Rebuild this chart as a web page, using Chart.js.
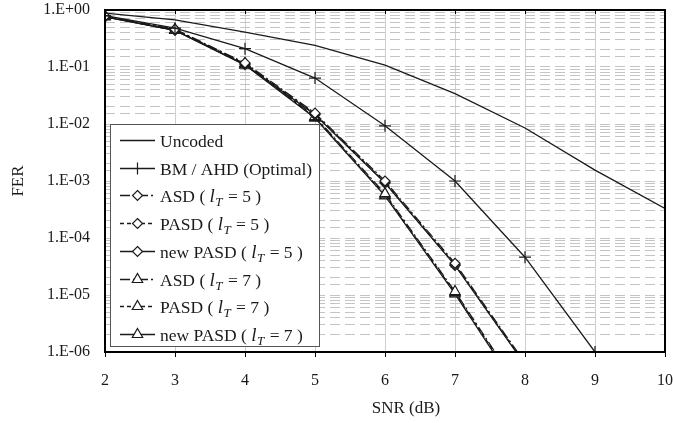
<!DOCTYPE html>
<html>
<head>
<meta charset="utf-8">
<script src="https://cdn.jsdelivr.net/npm/chart.js@4.4.1/dist/chart.umd.min.js"></script>
<style>
  html, body { margin: 0; padding: 0; background: #fff; }
  canvas { display: block; }
</style>
</head>
<body>
<canvas id="c" width="673" height="423"></canvas>
<script>
// ---- data ----
const snrUncoded = [2, 3, 4, 5, 6, 7, 8, 9, 10];
const ferUncoded = [0.88, 0.67, 0.41, 0.24, 0.108, 0.034, 0.0085, 0.00155, 0.00033];

const snrBM = [2, 3, 4, 5, 6, 7, 8, 9];
const ferBM = [0.80, 0.48, 0.21, 0.064, 0.0093, 0.001, 0.000046, 0.000001];

const snrCoded = [2, 3, 4, 5, 6, 7, 8];
const ferASD5     = [0.78, 0.46, 0.118, 0.0155, 0.00100, 0.000036, 6.5e-7];
const ferPASD5    = [0.77, 0.45, 0.114, 0.0150, 0.00095, 0.000034, 6.2e-7];
const ferNewPASD5 = [0.76, 0.44, 0.110, 0.0145, 0.00092, 0.000033, 6.0e-7];
const ferASD7     = [0.78, 0.45, 0.115, 0.0135, 0.00060, 0.0000115, 1.6e-7];
const ferPASD7    = [0.77, 0.44, 0.112, 0.0130, 0.00057, 0.0000110, 1.5e-7];
const ferNewPASD7 = [0.76, 0.44, 0.108, 0.0127, 0.00055, 0.0000105, 1.4e-7];

const xTicks = [2, 3, 4, 5, 6, 7, 8, 9, 10];

const legendLabels = [
  { pre: 'Uncoded' },
  { pre: 'BM / AHD (Optimal)' },
  { pre: 'ASD ( ', n: '5' },
  { pre: 'PASD ( ', n: '5' },
  { pre: 'new PASD ( ', n: '5' },
  { pre: 'ASD ( ', n: '7' },
  { pre: 'PASD ( ', n: '7' },
  { pre: 'new PASD ( ', n: '7' }
];

// ---- helpers ----
const INK = '#1a1a1a';
const SERIF = '"Liberation Serif", "Times New Roman", serif';
function pts(xs, ys) { return xs.map((x, i) => ({ x: x, y: ys[i] })); }
const DASHDOT = [10, 3, 2, 3];
const DASH = [4, 3];

function ds(label, xs, ys, style, dash) {
  return {
    label: label,
    data: pts(xs, ys),
    borderColor: INK,
    borderWidth: 1.3,
    borderDash: dash,
    backgroundColor: '#fff',
    pointStyle: style || false,
    pointRadius: style ? (style === 'cross' ? 6 : (style === 'triangle' ? 6 : 5)) : 0,
    pointBorderColor: INK,
    pointBackgroundColor: '#fff',
    pointBorderWidth: 1.2,
    tension: 0,
    fill: false
  };
}

const datasets = [
  ds('Uncoded', snrUncoded, ferUncoded, null, []),
  ds('BM', snrBM, ferBM, 'cross', []),
  ds('ASD5', snrCoded, ferASD5, 'rectRot', DASHDOT),
  ds('PASD5', snrCoded, ferPASD5, 'rectRot', DASH),
  ds('newPASD5', snrCoded, ferNewPASD5, 'rectRot', []),
  ds('ASD7', snrCoded, ferASD7, 'triangle', DASHDOT),
  ds('PASD7', snrCoded, ferPASD7, 'triangle', DASH),
  ds('newPASD7', snrCoded, ferNewPASD7, 'triangle', [])
];

function drawMarker(ctx, style, x, y, r) {
  ctx.save();
  ctx.setLineDash([]);
  ctx.lineWidth = 1.2;
  ctx.strokeStyle = INK;
  ctx.fillStyle = '#fff';
  ctx.beginPath();
  if (style === 'rectRot') {
    ctx.moveTo(x, y - r); ctx.lineTo(x + r, y); ctx.lineTo(x, y + r); ctx.lineTo(x - r, y); ctx.closePath();
    ctx.fill(); ctx.stroke();
  } else if (style === 'triangle') {
    ctx.moveTo(x, y - r); ctx.lineTo(x + r * 0.866, y + r * 0.5); ctx.lineTo(x - r * 0.866, y + r * 0.5); ctx.closePath();
    ctx.fill(); ctx.stroke();
  } else if (style === 'cross') {
    ctx.moveTo(x - r, y); ctx.lineTo(x + r, y); ctx.moveTo(x, y - r); ctx.lineTo(x, y + r);
    ctx.stroke();
  }
  ctx.restore();
}

const overlay = {
  id: 'overlay',
  afterDraw(chart) {
    const ctx = chart.ctx;
    const a = chart.chartArea;
    const xs = chart.scales.x;
    ctx.save();
    // frame
    ctx.setLineDash([]);
    ctx.strokeStyle = '#000';
    ctx.lineWidth = 2;
    ctx.strokeRect(a.left, a.top, a.right - a.left, a.bottom - a.top);
    // top tick marks
    ctx.lineWidth = 1;
    xTicks.forEach(v => {
      const px = Math.round(xs.getPixelForValue(v)) + 0.5;
      ctx.beginPath(); ctx.moveTo(px, a.top); ctx.lineTo(px, a.top + 4); ctx.stroke();
    });

    // axis titles
    ctx.fillStyle = INK;
    ctx.font = '17px ' + SERIF;
    ctx.textAlign = 'center';
    ctx.textBaseline = 'middle';
    ctx.fillText('SNR (dB)', 406, 409);
    ctx.save();
    ctx.translate(18.5, 181);
    ctx.rotate(-Math.PI / 2);
    ctx.fillText('FER', 0, 0);
    ctx.restore();

    // legend
    const bx = 110, by = 124, bw = 209, bh = 222;
    ctx.fillStyle = '#fff';
    ctx.fillRect(bx, by, bw, bh);
    ctx.strokeStyle = '#555';
    ctx.lineWidth = 1;
    ctx.strokeRect(bx + 0.5, by + 0.5, bw, bh);

    const x0 = 120, x1 = 155, mx = 137.5, tx = 160;
    legendLabels.forEach((lab, i) => {
      const y = Math.round(140 + i * 27.7) + 0.5;
      const d = chart.data.datasets[i];
      ctx.save();
      ctx.strokeStyle = INK;
      ctx.lineWidth = 1.3;
      ctx.setLineDash(d.borderDash || []);
      ctx.beginPath(); ctx.moveTo(x0, y); ctx.lineTo(x1, y); ctx.stroke();
      ctx.restore();
      if (d.pointStyle) drawMarker(ctx, d.pointStyle, mx, y, d.pointStyle === 'cross' ? 6 : (d.pointStyle === 'triangle' ? 6 : 5));

      ctx.fillStyle = INK;
      ctx.textAlign = 'left';
      ctx.textBaseline = 'alphabetic';
      const base = y + 6;
      let cx = tx;
      ctx.font = '17.5px ' + SERIF;
      ctx.fillText(lab.pre, cx, base);
      cx += ctx.measureText(lab.pre).width;
      if (lab.n) {
        ctx.font = 'italic 19px ' + SERIF;
        ctx.fillText('l', cx, base);
        cx += ctx.measureText('l').width + 0.5;
        ctx.font = 'italic 13px ' + SERIF;
        ctx.fillText('T', cx, base + 4);
        cx += ctx.measureText('T').width + 1;
        ctx.font = '17.5px ' + SERIF;
        const rest = ' = ' + lab.n + ' )';
        ctx.fillText(rest, cx, base);
      }
    });
    ctx.restore();
  }
};

function yLabel(v) {
  const l = Math.log10(v);
  const e = Math.round(l);
  if (Math.abs(l - e) > 1e-6) return '';
  const s = Math.abs(e) < 10 ? '0' + Math.abs(e) : String(Math.abs(e));
  return '1.E' + (e >= 0 ? '+' : '-') + s;
}

new Chart(document.getElementById('c'), {
  type: 'line',
  data: { datasets: datasets },
  plugins: [overlay],
  options: {
    responsive: false,
    animation: false,
    devicePixelRatio: 1,
    layout: { padding: { left: 0, right: 8, top: 10, bottom: 0 } },
    plugins: { legend: { display: false }, tooltip: { enabled: false } },
    elements: { line: { borderCapStyle: 'butt' } },
    scales: {
      x: {
        type: 'linear',
        min: 2, max: 10,
        afterFit(s) { s.height = 71; s.paddingLeft = 0; s.paddingRight = 0; },
        afterBuildTicks(s) { s.ticks = xTicks.map(v => ({ value: v })); },
        ticks: { font: { family: SERIF, size: 16 }, color: INK, padding: 14, maxRotation: 0 },
        grid: { color: '#cfcfcf', lineWidth: 1, drawTicks: true, tickLength: 5, tickColor: '#000' },
        border: { display: false }
      },
      y: {
        type: 'logarithmic',
        min: 1e-6, max: 1,
        afterFit(s) { s.width = 105; s.paddingTop = 0; s.paddingBottom = 0; },
        ticks: {
          autoSkip: false,
          font: { family: SERIF, size: 16 },
          color: INK,
          padding: 15,
          callback: (v) => yLabel(v)
        },
        grid: { color: '#c4c4c4', lineWidth: 1, drawTicks: false },
        border: { display: false, dash: [10, 5] }
      }
    }
  }
});
</script>
</body>
</html>
